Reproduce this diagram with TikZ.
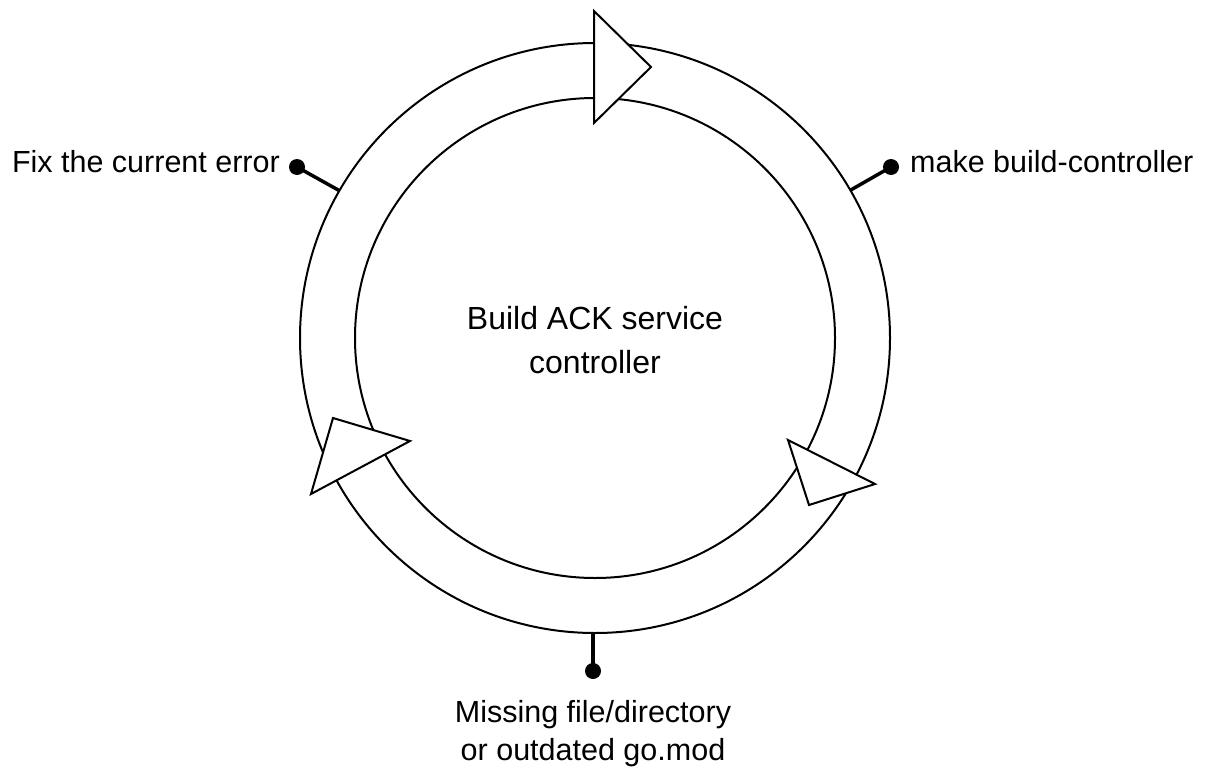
\documentclass[tikz,border=0pt]{standalone}
\usepackage{fontspec}
\setmainfont{Liberation Sans}
\begin{document}
\begin{tikzpicture}[x=1pt,y=-1pt,
  ring/.style={draw=black,line width=2pt,fill=white},
  tri/.style={draw=black,line width=2pt,fill=white,line join=miter},
  leader/.style={line width=3.5pt},
  dotnode/.style={circle,fill=black,inner sep=0pt,minimum size=16pt},
  lbl/.style={font=\fontsize{30.5}{38}\selectfont,inner sep=0pt}]
\useasboundingbox (0,0) rectangle (1210,784);
\fill[white] (0,0) rectangle (1210,784);
\coordinate (c) at (595,338);
% leaders
\node[dotnode] (dl) at (297,167) {};
\node[dotnode] (dr) at (891,167) {};
\node[dotnode] (db) at (593,671) {};
\coordinate (el) at (340,191);
\coordinate (er) at (849,191);
\coordinate (eb) at (593,630);
\draw[leader] (dl.center) -- (el);
\draw[leader] (dr.center) -- (er);
\draw[leader] (db.center) -- (eb);
% ring
\draw[ring] (c) circle[radius=295];
\draw[ring] (c) circle[radius=240];
% arrowheads
\draw[tri] (594,11) -- (594,123) -- (651,67) -- cycle;
\draw[tri] (788,440) -- (809,505) -- (875,484) -- cycle;
\draw[tri] (333,418) -- (311,494) -- (410,441) -- cycle;
% labels
\node[lbl,anchor=east] (tl) at (280,162) {Fix the current error};
\node[lbl,anchor=west] (tr) at (910,162) {make build-controller};
\node[lbl,align=center] (tb) at (593,734) {Missing file/directory\\or outdated go.mod};
\node[lbl,align=center,font=\fontsize{32}{44}\selectfont] (tc) at (595,340) {Build ACK service\\controller};
\end{tikzpicture}
\end{document}
